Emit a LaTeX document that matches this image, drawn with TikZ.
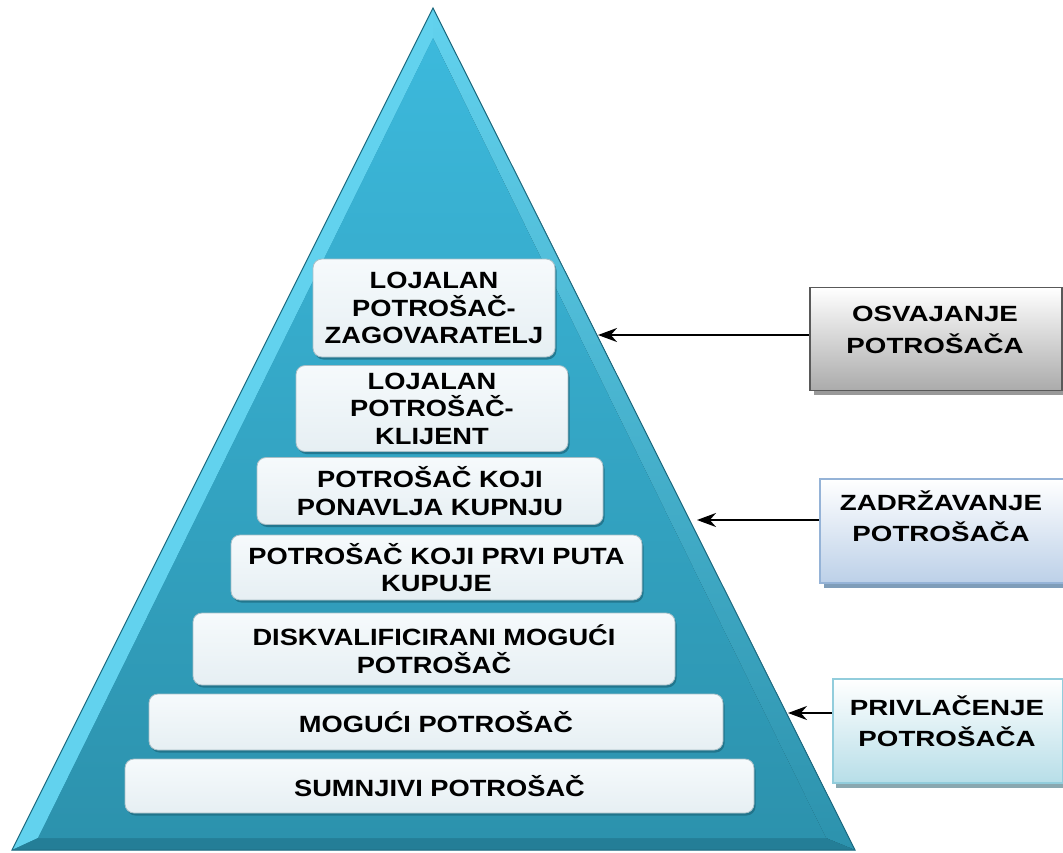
\documentclass[tikz,border=0pt]{standalone}
\usepackage{fontspec}
\setmainfont{Liberation Sans}
\newfontfamily\barfont{Liberation Sans}[FakeStretch=1.16]
\newfontfamily\sidefont{Liberation Sans}[FakeStretch=1.26]
\usetikzlibrary{shadows,arrows.meta}
\definecolor{tealmid}{HTML}{2C92AD}
\definecolor{tealtop}{HTML}{3CB9DC}
\definecolor{teallight}{HTML}{62D2EE}
\definecolor{tealbot}{HTML}{247E97}
\definecolor{tealedge}{HTML}{1D6A80}
\definecolor{barfillA}{HTML}{F6FAFC}
\definecolor{barfillB}{HTML}{E6EFF3}
\definecolor{bardraw}{HTML}{A9BFC7}
\definecolor{blueedge}{HTML}{95B3D7}
\definecolor{bluefill}{HTML}{BCD0E8}
\definecolor{blueshadow}{HTML}{7F9DB9}
\definecolor{cyanedge}{HTML}{92CDDC}
\definecolor{cyanfill}{HTML}{B7DEE8}
\definecolor{cyanshadow}{HTML}{8AA8B0}
\tikzset{
  bar/.style={draw=bardraw, line width=0.8pt, rounded corners=9pt,
    top color=barfillA, bottom color=barfillB,
    drop shadow={shadow xshift=1.5pt, shadow yshift=-2.5pt, fill=tealedge, opacity=0.75},
    font=\barfont\bfseries\fontsize{23.5}{27.5}\selectfont, align=center, inner sep=0pt},
  sidebox/.style={line width=1.6pt, inner sep=0pt},
  sidetext/.style={align=center, inner sep=0pt,
    font=\sidefont\bfseries\fontsize{22}{31.5}\selectfont},
  conn/.style={-{Stealth[length=19pt,width=14pt]}, line width=2pt},
}
\begin{document}
\begin{tikzpicture}[x=1pt,y=-1pt]
\useasboundingbox (0,0) rectangle (1063,852);
% pyramid
\coordinate (A) at (433,8);
\coordinate (L) at (12,850);
\coordinate (R) at (855,850);
\coordinate (iA) at (433,38);
\coordinate (iL) at (38,838);
\coordinate (iR) at (826,838);
\fill[tealmid] (A) -- (L) -- (R) -- cycle;
\fill[teallight] (A) -- (L) -- (iL) -- (iA) -- cycle;
\fill[top color=teallight, bottom color=tealmid] (A) -- (iA) -- (iR) -- (R) -- cycle;
\fill[tealbot] (L) -- (iL) -- (iR) -- (R) -- cycle;
\shade[top color=tealtop, bottom color=tealmid, shading angle=0] (iA) -- (iL) -- (iR) -- cycle;
\draw[tealedge, line width=1pt] (A) -- (L) -- (R) -- cycle;
% bars
\node[bar, minimum width=242pt, minimum height=98pt] (b1) at (434,308) {LOJALAN\\POTROŠAČ-\\ZAGOVARATELJ};
\node[bar, minimum width=272pt, minimum height=86pt] (b2) at (432,408.5) {LOJALAN\\POTROŠAČ-\\KLIJENT};
\node[bar, minimum width=346pt, minimum height=67pt] (b3) at (430,491) {POTROŠAČ KOJI\\PONAVLJA KUPNJU};
\node[bar, minimum width=411pt, minimum height=65pt] (b4) at (436.5,567.5) {POTROŠAČ KOJI PRVI PUTA\\KUPUJE};
\node[bar, minimum width=482pt, minimum height=72pt] (b5) at (434,649) {DISKVALIFICIRANI MOGUĆI\\POTROŠAČ};
\node[bar, minimum width=574pt, minimum height=56pt] (b6) at (436,722) {MOGUĆI POTROŠAČ};
\node[bar, minimum width=629pt, minimum height=54pt] (b7) at (439.5,786) {SUMNJIVI POTROŠAČ};
% side boxes
\fill[black!40] (814,291) rectangle (1063,395);
\node[sidebox, draw=black!65, top color=white, bottom color=black!33,
  minimum width=252pt, minimum height=103pt] (s1) at (936,339) {};
\node[sidetext] (s1t) at (935,330) {OSVAJANJE\\POTROŠAČA};
\fill[blueshadow] (824,484) rectangle (1063,588);
\node[sidebox, draw=blueedge, top color=white, bottom color=bluefill,
  minimum width=244pt, minimum height=104pt] (s2) at (942,531) {};
\node[sidetext] (s2t) at (941,516) {ZADRŽAVANJE\\POTROŠAČA};
\fill[cyanshadow] (836,683) rectangle (1063,788);
\node[sidebox, draw=cyanedge, top color=white, bottom color=cyanfill,
  minimum width=230pt, minimum height=104pt] (s3) at (948,731) {};
\node[sidetext] (s3t) at (947,721) {PRIVLAČENJE\\POTROŠAČA};
% connectors
\coordinate (t1) at (598,335);
\coordinate (t2) at (697,520);
\coordinate (t3) at (788,713);
\draw[conn] (s1.west |- t1) -- (t1);
\draw[conn] (s2.west |- t2) -- (t2);
\draw[conn] (s3.west |- t3) -- (t3);
\end{tikzpicture}
\end{document}
